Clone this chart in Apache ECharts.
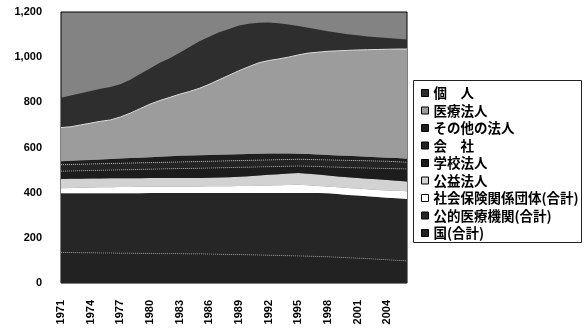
<!DOCTYPE html>
<html>
<head>
<meta charset="utf-8">
<script src="https://cdn.jsdelivr.net/npm/echarts@6/dist/echarts.min.js"></script>
<style>
  html, body { margin: 0; padding: 0; background: #fff; }
  #chart { width: 584px; height: 329px; }
</style>
</head>
<body>
<div id="chart"></div>
<script>
// 開設者別 病床数の推移（積み上げ）
const years = ['1971','1972','1973','1974','1975','1976','1977','1978','1979','1980',
  '1981','1982','1983','1984','1985','1986','1987','1988','1989','1990',
  '1991','1992','1993','1994','1995','1996','1997','1998','1999','2000',
  '2001','2002','2003','2004','2005','2006'];

const kuni = [135,135,134,134,133,133,132,132,131,131,130,130,130,129,129,128,127,126,126,125,
  124,123,122,121,120,119,117,116,114,112,110,108,105,103,100,98];
const kouteki = [262,262,263,263,264,264,265,265,266,267,268,268,268,269,269,270,271,272,272,273,
  274,275,276,277,278,279,281,281,280,278,277,276,276,275,275,274];
const shakaiHoken = [23,24,25,26,27,27,28,28,29,28,28,29,29,29,29,30,30,30,31,32,
  33,34,35,36,37,35,32,30,30,31,31,31,31,32,33,34];
const koueki = [41,41,40,40,39,40,39,39,38,39,39,38,38,38,38,38,39,40,41,43,
  45,47,49,51,52,51,50,49,48,47,47,47,47,46,45,44];
const gakkou = [34,34,35,35,36,36,37,38,39,39,40,41,42,42,43,43,43,43,42,40,
  38,36,34,32,31,33,36,38,41,43,45,47,49,51,53,55];
const kaisha = [29,29,29,29,29,29,29,29,29,29,29,29,29,30,30,30,30,30,30,30,
  30,30,30,30,30,30,30,31,31,32,32,32,32,32,31,30];
const sonota = [15,16,17,18,19,20,21,22,23,24,25,26,27,28,28,28,28,28,28,28,
  28,28,27,26,24,24,23,22,21,20,19,18,17,16,16,15];
const iryou = [149,151,157,163,169,173,184,199,217,235,249,261,273,283,296,313,332,351,370,387,
  403,412,419,427,438,447,453,459,463,467,471,474,477,480,483,486];
const kojin = [132,138,140,142,144,146,145,148,153,158,167,173,184,197,208,210,210,205,200,190,
  177,169,158,145,128,112,100,89,80,72,65,59,54,50,46,42];

const yTicks = { min: 0, max: 1200, step: 200 };

// 下から順に積み上げる
const layers = [
  { name: '国(合計)', data: kuni, color: '#222222', line: { color: '#8a8a8a', width: 1, type: 'dotted' } },
  { name: '公的医療機関(合計)', data: kouteki, color: '#262626' },
  { name: '社会保険関係団体(合計)', data: shakaiHoken, color: '#ffffff' },
  { name: '公益法人', data: koueki, color: '#d2d2d2' },
  { name: '学校法人', data: gakkou, color: '#1c1c1c', line: { color: '#9a9a9a', width: 1, type: 'dotted' } },
  { name: '会　社', data: kaisha, color: '#242424', line: { color: '#b0b0b0', width: 1, type: 'dotted' } },
  { name: 'その他の法人', data: sonota, color: '#1e1e1e' },
  { name: '医療法人', data: iryou, color: '#9c9c9c', line: { color: '#dddddd', width: 1, type: 'solid' } },
  { name: '個　人', data: kojin, color: '#2e2e2e' }
];

const chart = echarts.init(document.getElementById('chart'), null, { renderer: 'canvas' });

const numFont = 'Liberation Sans, Arial, sans-serif';
const jpFont = 'Noto Sans CJK JP';

chart.setOption({
  animation: false,
  backgroundColor: '#ffffff',
  grid: {
    left: 61, right: 177, top: 12, bottom: 46,
    show: true,
    backgroundColor: '#838383',
    borderColor: '#000000',
    borderWidth: 1
  },
  xAxis: {
    type: 'category',
    data: years,
    boundaryGap: false,
    axisLine: { show: false },
    axisTick: { show: false },
    splitLine: { show: false },
    axisLabel: {
      interval: 2, rotate: 90, margin: 17, color: '#000',
      fontFamily: numFont, fontWeight: 'bold', fontSize: 11
    }
  },
  yAxis: {
    type: 'value',
    min: yTicks.min, max: yTicks.max, interval: yTicks.step,
    axisLine: { show: false },
    axisTick: { show: false },
    splitLine: { show: false },
    axisLabel: {
      margin: 19, color: '#000',
      fontFamily: numFont, fontWeight: 'bold', fontSize: 11,
      formatter: v => v.toLocaleString('en-US')
    }
  },
  legend: {
    orient: 'vertical',
    left: 421,
    top: 86,
    padding: 0,
    itemGap: 3.5,
    itemWidth: 7,
    itemHeight: 7,
    icon: 'rect',
    itemStyle: { borderColor: '#000', borderWidth: 1 },
    textStyle: {
      color: '#000',
      fontFamily: jpFont,
      fontWeight: 'bold',
      fontSize: 13.5,
      lineHeight: 14
    },
    data: layers.map(l => l.name).reverse()
  },
  graphic: [{
    type: 'rect',
    shape: { x: 413.5, y: 80.5, width: 168, height: 162 },
    style: { fill: null, stroke: '#222', lineWidth: 1 },
    silent: true, z: 10
  }],
  series: layers.map(l => ({
    name: l.name,
    type: 'line',
    stack: 'total',
    data: l.data,
    symbol: 'none',
    smooth: false,
    itemStyle: { color: l.color },
    lineStyle: l.line ? l.line : { width: 0 },
    areaStyle: { color: l.color, opacity: 1 }
  }))
});
</script>
</body>
</html>
